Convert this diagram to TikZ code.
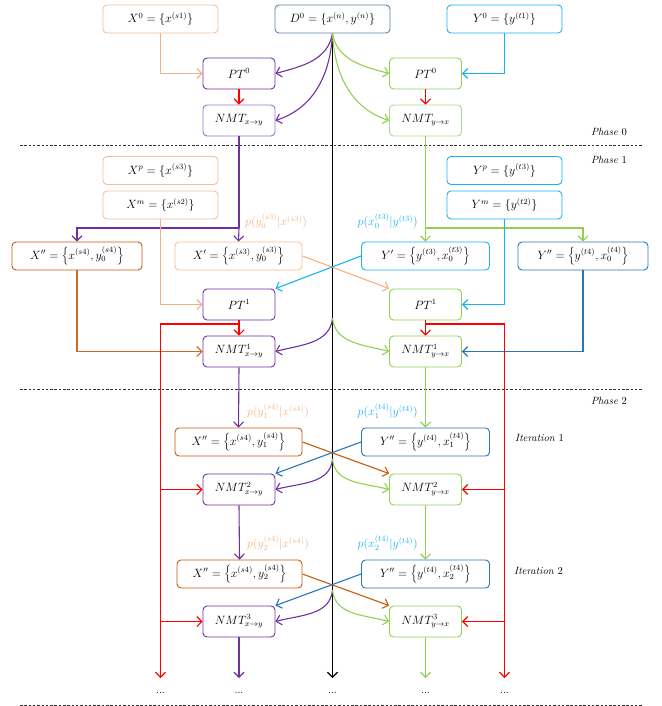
\documentclass[tikz,border=0pt]{standalone}
\usetikzlibrary{arrows.meta}
\definecolor{peach}{HTML}{F4B183}
\definecolor{peachb}{HTML}{F6BE98}
\definecolor{dorange}{HTML}{C55A11}
\definecolor{lblue}{HTML}{1AB2F0}
\definecolor{dblue}{HTML}{2E75B6}
\definecolor{dgray}{HTML}{5A82AA}
\definecolor{purp}{HTML}{7030A0}
\definecolor{lpurp}{HTML}{9E72C8}
\definecolor{grn}{HTML}{92D050}
\definecolor{lgrn}{HTML}{A9D98A}
\definecolor{rred}{HTML}{FF0000}
\begin{document}
\begin{tikzpicture}[x=1pt,y=1pt,
  box/.style={draw, rounded corners=4pt, line width=0.9pt, minimum height=28pt, minimum width=115pt, inner sep=1pt, font=\fontsize{12}{14}\selectfont},
  sbox/.style={box, minimum width=72pt, minimum height=31pt},
  wbox/.style={box, minimum width=128pt},
  ln/.style={line width=1.1pt},
  arr/.style={ln, -{Straight Barb[length=5pt,width=10pt]}},
  lab/.style={font=\fontsize{10.5}{12}\selectfont, inner sep=0pt},
  plab/.style={font=\fontsize{11.5}{13}\selectfont, inner sep=0pt},
  sep/.style={line width=0.6pt, dash pattern=on 2.5pt off 1.8pt, draw=black!80}]
\useasboundingbox (0,0) rectangle (661,-706);

% Phase 0 boxes
\node[box, draw=peachb] (X0) at (160.5,-19) {$X^0=\{x^{(s1)}\}$};
\node[box, draw=dgray] (D0) at (332.5,-19) {$D^0=\{x^{(n)},y^{(n)}\}$};
\node[box, draw=lblue] (Y0) at (504.5,-19) {$Y^0=\{y^{(t1)}\}$};
\node[sbox, draw=purp] (PT0L) at (239,-73.5) {$PT^0$};
\node[sbox, draw=lpurp] (NMT0L) at (239,-120.5) {$NMT_{x\rightarrow y}$};
\node[sbox, draw=grn] (PT0R) at (425.5,-73.5) {$PT^0$};
\node[sbox, draw=lgrn] (NMT0R) at (425.5,-120.5) {$NMT_{y\rightarrow x}$};

% Phase 1 boxes
\node[box, draw=peachb] (Xp) at (160.5,-170.5) {$X^p=\{x^{(s3)}\}$};
\node[box, draw=peachb] (Xm) at (160.5,-205) {$X^m=\{x^{(s2)}\}$};
\node[box, draw=lblue] (Yp) at (504.5,-170.5) {$Y^p=\{y^{(t3)}\}$};
\node[box, draw=lblue] (Ym) at (504.5,-205) {$Y^m=\{y^{(t2)}\}$};
\node[wbox, minimum width=130pt, draw=dorange] (XppA) at (77,-256) {$X''=\left\{x^{(s4)},y_0^{(s4)}\right\}$};
\node[wbox, minimum width=127pt, draw=peachb] (XpA) at (238.5,-256) {$X'=\left\{x^{(s3)},y_0^{(s3)}\right\}$};
\node[wbox, draw=lblue] (YpA) at (425.5,-256) {$Y'=\left\{y^{(t3)},x_0^{(t3)}\right\}$};
\node[wbox, minimum width=130pt, draw=dblue] (YppA) at (583,-256) {$Y''=\left\{y^{(t4)},x_0^{(t4)}\right\}$};
\node[sbox, draw=purp] (PT1L) at (239,-304.5) {$PT^1$};
\node[sbox, draw=purp] (NMT1L) at (239,-351.5) {$NMT^1_{x\rightarrow y}$};
\node[sbox, draw=grn] (PT1R) at (425.5,-304.5) {$PT^1$};
\node[sbox, draw=grn] (NMT1R) at (425.5,-351.5) {$NMT^1_{y\rightarrow x}$};

% Phase 2 boxes
\node[wbox, minimum width=127pt, draw=dorange] (XppB) at (238.5,-442) {$X''=\left\{x^{(s4)},y_1^{(s4)}\right\}$};
\node[wbox, draw=dblue] (YppB) at (425.5,-442) {$Y''=\left\{y^{(t4)},x_1^{(t4)}\right\}$};
\node[sbox, draw=purp] (NMT2L) at (239,-489.5) {$NMT^2_{x\rightarrow y}$};
\node[sbox, draw=grn] (NMT2R) at (425.5,-489.5) {$NMT^2_{y\rightarrow x}$};
\node[wbox, minimum width=125pt, draw=dorange] (XppC) at (239.5,-574) {$X''=\left\{x^{(s4)},y_2^{(s4)}\right\}$};
\node[wbox, draw=dblue] (YppC) at (425.5,-574) {$Y''=\left\{y^{(t4)},x_2^{(t4)}\right\}$};
\node[sbox, draw=purp] (NMT3L) at (239,-621.5) {$NMT^3_{x\rightarrow y}$};
\node[sbox, draw=grn] (NMT3R) at (425.5,-621.5) {$NMT^3_{y\rightarrow x}$};

% labels
\node[lab, anchor=east] (ph0) at (627,-132) {\textit{Phase} 0};
\node[lab, anchor=east] (ph1) at (627,-160) {\textit{Phase} 1};
\node[lab, anchor=east] (ph2) at (627,-401) {\textit{Phase} 2};
\node[lab, anchor=west] (it1) at (515,-438) {\textit{Iteration} 1};
\node[lab, anchor=west] (it2) at (514,-571) {\textit{Iteration} 2};
\node[plab, anchor=west, text=peach] (pa) at (245,-221) {$p(y_0^{(s3)}|x^{(s3)})$};
\node[plab, anchor=east, text=lblue] (pb) at (418,-221) {$p(x_0^{(t3)}|y^{(t3)})$};
\node[plab, anchor=west, text=peach] (pc) at (247,-411) {$p(y_1^{(s4)}|x^{(s4)})$};
\node[plab, anchor=east, text=lblue] (pd) at (418,-411) {$p(x_1^{(t4)}|y^{(t4)})$};
\node[plab, anchor=west, text=peach] (pe) at (247,-543) {$p(y_2^{(s4)}|x^{(s4)})$};
\node[plab, anchor=east, text=lblue] (pf) at (418,-543) {$p(x_2^{(t4)}|y^{(t4)})$};

% separators
\coordinate (s0a) at (20,-145); \coordinate (s0b) at (643,-145);
\coordinate (s1a) at (20,-389); \coordinate (s1b) at (643,-389);
\coordinate (s2a) at (20,-705); \coordinate (s2b) at (643,-705);
\draw[sep] (s0a) -- (s0b);
\draw[sep] (s1a) -- (s1b);
\draw[sep] (s2a) -- (s2b);

% ends and dots
\coordinate (eR1) at (160.5,-678);
\coordinate (eP) at (239,-678);
\coordinate (eB) at (332.5,-678);
\coordinate (eG) at (425.5,-678);
\coordinate (eR2) at (504.5,-678);
\foreach \c/\n in {eR1/d1,eP/d2,eB/d3,eG/d4,eR2/d5}
  \node[lab, below=14pt] (\n) at (\c) {...};

% black central line
\draw[arr, black] (D0.south) -- (eB);

% phase 0 connectors
\draw[arr, peach] (X0.south) |- (PT0L.west);
\draw[arr, lblue] (Y0.south) |- (PT0R.east);
\draw[arr, purp] (D0.south) to[out=-100,in=15] (PT0L.east);
\draw[arr, purp] (D0.south) to[out=-93,in=18] (NMT0L.east);
\draw[arr, grn] (D0.south) to[out=-80,in=165] (PT0R.west);
\draw[arr, grn] (D0.south) to[out=-87,in=162] (NMT0R.west);
\draw[arr, rred] (PT0L.south) -- (NMT0L.north);
\draw[arr, rred] (PT0R.south) -- (NMT0R.north);

% phase 1 connectors
\coordinate (pbr) at (239,-228);
\coordinate (gbr) at (425.5,-228);
\draw[ln, purp] (NMT0L.south) -- (pbr);
\draw[arr, purp] (pbr) -- (XpA.north);
\draw[arr, purp] (pbr) -| (XppA.north);
\draw[ln, grn] (NMT0R.south) -- (gbr);
\draw[arr, grn] (gbr) -- (YpA.north);
\draw[arr, grn] (gbr) -| (YppA.north);
\draw[arr, peach] (Xm.south) |- (PT1L.west);
\draw[arr, dorange!90] (XppA.south) |- (NMT1L.west);
\draw[arr, lblue] (Ym.south) |- (PT1R.east);
\draw[arr, dblue] (YppA.south) |- (NMT1R.east);
\draw[arr, peach] (XpA.east) -- (PT1R.north west);
\draw[arr, lblue] (YpA.west) -- (PT1L.north east);
\coordinate (c1) at (332.5,-318);
\draw[arr, purp] (c1) to[out=-95,in=15] (NMT1L.east);
\draw[arr, grn] (c1) to[out=-85,in=165] (NMT1R.west);
\draw[arr, rred] (PT1L.south) -- (NMT1L.north);
\draw[arr, rred] (PT1R.south) -- (NMT1R.north);
\coordinate (rl) at (239,-324);
\coordinate (rr) at (425.5,-324);
\draw[arr, rred] (rl) -| (eR1);
\draw[arr, rred] (rr) -| (eR2);

% phase 2 connectors
\draw[arr, purp] (NMT1L.south) -- (XppB.north);
\draw[arr, grn] (NMT1R.south) -- (YppB.north);
\draw[arr, dorange] (XppB.east) -- (NMT2R.north west);
\draw[arr, dblue] (YppB.west) -- (NMT2L.north east);
\coordinate (c2) at (332.5,-459);
\draw[arr, purp] (c2) to[out=-95,in=15] (NMT2L.east);
\draw[arr, grn] (c2) to[out=-85,in=165] (NMT2R.west);
\draw[arr, rred] (NMT2L.west -| eR1) -- (NMT2L.west);
\draw[arr, rred] (NMT2R.east -| eR2) -- (NMT2R.east);

\draw[arr, purp] (NMT2L.south) -- (XppC.north);
\draw[arr, grn] (NMT2R.south) -- (YppC.north);
\draw[arr, dorange] (XppC.east) -- (NMT3R.north west);
\draw[arr, dblue] (YppC.west) -- (NMT3L.north east);
\coordinate (c3) at (332.5,-590);
\draw[arr, purp] (c3) to[out=-95,in=15] (NMT3L.east);
\draw[arr, grn] (c3) to[out=-85,in=165] (NMT3R.west);
\draw[arr, rred] (NMT3L.west -| eR1) -- (NMT3L.west);
\draw[arr, rred] (NMT3R.east -| eR2) -- (NMT3R.east);
\draw[arr, purp] (NMT3L.south) -- (eP);
\draw[arr, grn] (NMT3R.south) -- (eG);
\end{tikzpicture}
\end{document}
